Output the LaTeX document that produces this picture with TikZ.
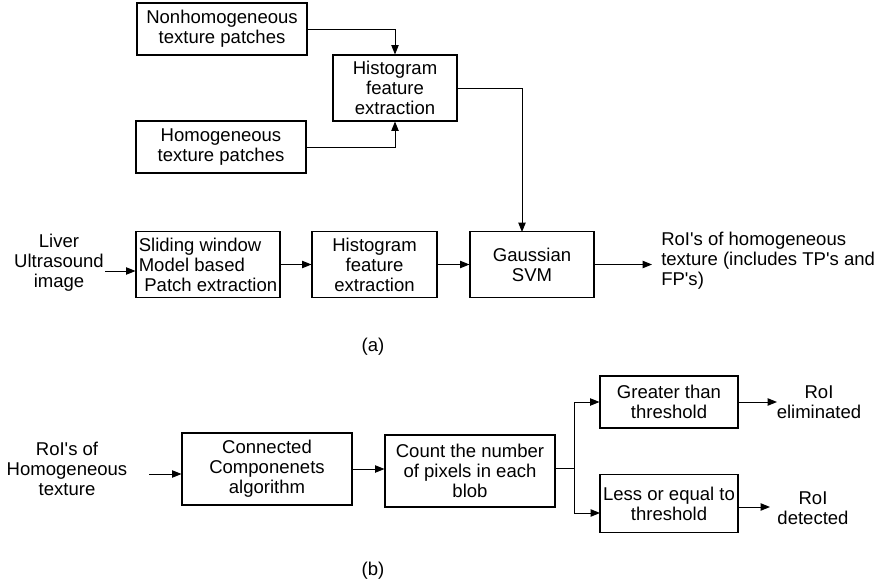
\documentclass[tikz,border=0pt]{standalone}
\usepackage{fontspec}
\setmainfont{Liberation Sans}
\usetikzlibrary{
arrows.meta,
positioning,
calc
}

\begin{document}
\begin{tikzpicture}[x=0.75pt,y=-0.75pt,
  every node/.style={font=\fontsize{13.9}{15}\selectfont, inner sep=0pt},
  box/.style={draw, rectangle, line width=0.8pt, align=center, minimum width=#1*0.75pt},
  box/.default=124,
  arr/.style={line width=0.7pt, -{Triangle[length=7pt,width=5.5pt]}},
  ln/.style={line width=0.7pt}]

\useasboundingbox (0,0) rectangle (876,585);

%% (a) training part
\node[box=170, minimum height=39pt] (nonhomo) at (222,29) {Nonhomogeneous\\texture patches};
\node[box=170, minimum height=39pt] (homo) at (221,147) {Homogeneous\\texture patches};
\node[box, minimum height=49.5pt] (histtrain) at (395,88) {Histogram\\feature\\extraction};

\draw[arr] (nonhomo.east) -| (histtrain.north);
\draw[arr] (homo.east) -| (histtrain.south);

%% (a) detection chain
\node[align=center] (liver) at (59,263) {Liver\\Ultrasound\\image};
\node[box=144, minimum height=49pt, align=left] (slide) at (208,264.5) {Sliding window\\Model based\\\hspace{0.3em}Patch extraction};
\node[box=125, minimum height=49pt] (histtest) at (374.5,264.5) {Histogram\\feature\\extraction};
\node[box, minimum height=49pt] (gauss) at (532,264.5) {Gaussian\\SVM};
\node[anchor=west, align=left] (roia) at (661,261) {RoI\textquotesingle s of homogeneous\\texture (includes TP\textquotesingle s and\\FP\textquotesingle s)};

\coordinate (liverout) at (105,271);
\coordinate (gaussin) at (522,232);
\coordinate (gaussout) at (652,264.5);

\draw[arr] (liverout) -- (slide.west |- liverout);
\draw[arr] (slide.east) -- (histtest.west);
\draw[arr] (histtest.east) -- (gauss.west);
\draw[arr] (histtrain.east) -| (gaussin);
\draw[arr] (gauss.east) -- (gaussout);

\node (capa) at (373,347) {(a)};

%% (b) blob filtering
\node[align=center] (roib) at (67,469) {RoI\textquotesingle s of\\Homogeneous\\texture};
\node[box=170, minimum height=54pt] (conn) at (267,469) {Connected\\Componenets\\algorithm};
\node[box=170, minimum height=54pt] (count) at (470,471) {Count the number\\of pixels in each\\blob};
\node[box=138, minimum height=39pt] (greater) at (669,402) {Greater than\\threshold};
\node[box=138, minimum height=44pt] (less) at (669,503.5) {Less or equal to\\threshold};
\node[align=center] (elim) at (819,402) {RoI\\eliminated};
\node[align=center] (detect) at (813,508) {RoI\\detected};

\coordinate (roibout) at (149,474);
\coordinate (split) at (574,468);
\coordinate (lessin) at (600,513);
\coordinate (elimin) at (777,402);
\coordinate (detectin) at (770,507);

\draw[arr] (roibout) -- (conn.west |- roibout);
\draw[arr] (conn.east) -- (count.west |- conn.east);
\draw[ln] (count.east |- split) -- (split);
\draw[arr] (split) |- (greater.west);
\draw[arr] (split) |- (lessin);
\draw[arr] (greater.east) -- (elimin);
\draw[arr] (less.east |- detectin) -- (detectin);

\node (capb) at (373,571) {(b)};

\end{tikzpicture}
\end{document}
